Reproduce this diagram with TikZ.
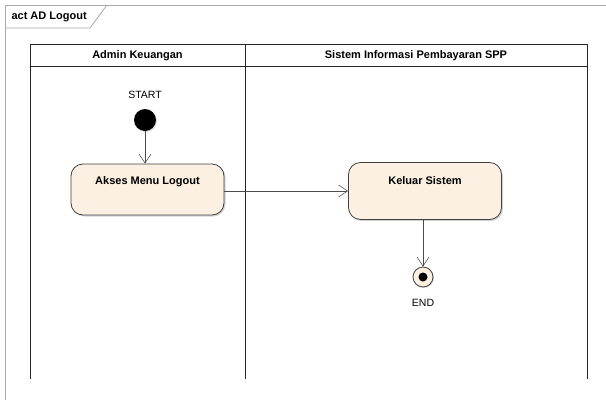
\documentclass[tikz,border=0pt]{standalone}
\usepackage{fontspec}
\setmainfont{Liberation Sans}
\usetikzlibrary{arrows.meta,shadows}
\definecolor{actfill}{HTML}{FBF0E1}
\definecolor{framegray}{HTML}{A8A8A8}
\begin{document}
\begin{tikzpicture}[x=1pt,y=-1pt,
  lbl/.style={font=\fontsize{11}{12}\selectfont\bfseries},
  plain/.style={font=\fontsize{10.5}{12}\selectfont},
  action/.style={draw=black!75,fill=actfill,rounded corners=12pt,line width=0.8pt,
     minimum width=153pt,minimum height=51pt,inner sep=0pt,
     drop shadow={shadow xshift=1.5pt,shadow yshift=-1.5pt,opacity=0.35}},
  flow/.style={draw=black!70,line width=0.6pt,-{Straight Barb[length=9pt,width=12pt,line width=0.6pt]}},
  lane/.style={draw=black!85,line width=1pt}
]
\useasboundingbox (0,0) rectangle (606,400);
% frame
\draw[framegray,line width=1pt] (606,5) -- (5,5) -- (5,400);
\draw[framegray,line width=0.8pt] (5,28) -- (90,28) -- (107,5);
\node[lbl,anchor=west] (title) at (8,16.5) {act AD Logout};
% swimlanes
\draw[lane] (30,44) rectangle (587,66);
\draw[lane] (30,66) -- (30,379);
\draw[lane] (245,44) -- (245,379);
\draw[lane] (587,66) -- (587,379);
\node[lbl] (lane1) at (137.5,55.5) {Admin Keuangan};
\node[lbl] (lane2) at (416,55.5) {Sistem Informasi Pembayaran SPP};
% start
\node[plain] (starttxt) at (145,95) {START};
\node[circle,fill=black,minimum size=22pt,inner sep=0pt,
  drop shadow={shadow xshift=1pt,shadow yshift=-1pt,opacity=0.3}] (start) at (145,120) {};
% actions
\node[action] (akses) at (147.5,189.5) {};
\node[lbl] (aksestxt) at (147.5,182) {Akses Menu Logout};
\node[action,minimum height=57pt] (keluar) at (425,191) {};
\node[lbl] (keluartxt) at (425,181) {Keluar Sistem};
% end
\node[circle,draw=black!75,fill=actfill,line width=0.8pt,minimum size=20pt,inner sep=0pt,
  drop shadow={shadow xshift=1pt,shadow yshift=-1pt,opacity=0.3}] (end) at (423,277) {};
\node[circle,fill=black,minimum size=9pt,inner sep=0pt] (enddot) at (423,277) {};
\node[plain] (endtxt) at (423,303) {END};
% flows
\draw[flow] (start) -- (start |- akses.north);
\draw[flow] (akses.east |- 0,191) -- (keluar.west |- 0,191);
\draw[flow] (keluar.south -| end) -- (end.north);
\end{tikzpicture}
\end{document}
